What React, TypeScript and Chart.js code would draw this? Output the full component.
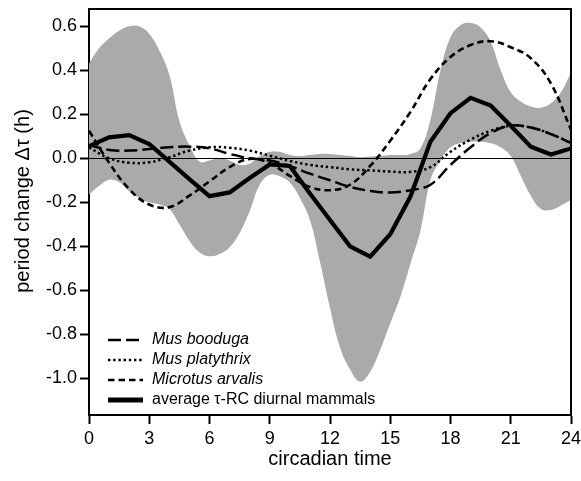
import React, { useEffect, useRef } from "react";
import { Chart, registerables } from "chart.js";

Chart.register(...registerables);

// ---------- data ----------
const hours = [0, 1, 2, 3, 4, 5, 6, 7, 8, 9, 10, 11, 12, 13, 14, 15, 16, 17, 18, 19, 20, 21, 22, 23, 24];

const averageTauRC = [0.055, 0.095, 0.105, 0.065, -0.015, -0.095, -0.172, -0.155, -0.09, -0.028, -0.035, -0.16, -0.28, -0.4, -0.447, -0.345, -0.175, 0.075, 0.205, 0.275, 0.24, 0.148, 0.053, 0.017, 0.045];

const musBooduga = [0.06, 0.038, 0.035, 0.042, 0.05, 0.053, 0.045, 0.02, 0.0, -0.01, -0.035, -0.07, -0.1, -0.13, -0.148, -0.155, -0.145, -0.12, -0.03, 0.05, 0.115, 0.148, 0.14, 0.11, 0.07];

const musPlatythrix = [0.05, 0.0, -0.02, -0.018, 0.005, 0.035, 0.05, 0.048, 0.035, 0.012, -0.012, -0.03, -0.04, -0.05, -0.055, -0.06, -0.062, -0.04, 0.03, 0.085, 0.125, 0.148, 0.14, 0.11, 0.07];

const microtusArvalis = [0.125, -0.02, -0.14, -0.21, -0.222, -0.17, -0.105, -0.04, -0.003, -0.022, -0.08, -0.13, -0.145, -0.12, -0.035, 0.08, 0.21, 0.36, 0.46, 0.515, 0.532, 0.505, 0.455, 0.34, 0.13];

const bandTime = [0, 0.5, 1, 1.5, 2, 2.5, 3, 3.5, 4, 4.5, 5, 5.5, 6, 6.5, 7, 7.5, 8, 8.5, 9, 9.5, 10, 10.5, 11, 11.5, 12, 12.5, 13, 13.5, 14, 14.5, 15, 15.5, 16, 16.5, 17, 17.5, 18, 18.5, 19, 19.5, 20, 20.5, 21, 21.5, 22, 22.5, 23, 23.5, 24];

const bandUpper = [0.43, 0.5, 0.545, 0.58, 0.6, 0.6, 0.565, 0.49, 0.38, 0.17, 0.06, -0.015, -0.01, 0.0, -0.01, -0.03, -0.025, 0.01, 0.03, 0.03, 0.015, 0.01, 0.015, 0.02, 0.02, 0.015, 0.01, 0.005, 0.008, 0.01, 0.015, 0.015, 0.02, 0.045, 0.175, 0.4, 0.55, 0.605, 0.615, 0.595, 0.53, 0.4, 0.3, 0.258, 0.235, 0.23, 0.25, 0.3, 0.39];

const bandLower = [-0.165, -0.125, -0.097, -0.108, -0.15, -0.18, -0.2, -0.21, -0.23, -0.3, -0.375, -0.428, -0.445, -0.435, -0.405, -0.34, -0.24, -0.12, -0.075, -0.082, -0.11, -0.18, -0.28, -0.47, -0.68, -0.86, -0.96, -1.015, -0.97, -0.87, -0.75, -0.63, -0.48, -0.33, -0.1, -0.01, 0.05, 0.07, 0.075, 0.075, 0.068, 0.05, 0.01, -0.08, -0.17, -0.23, -0.235, -0.215, -0.19];

const xTicks = [0, 3, 6, 9, 12, 15, 18, 21, 24];
const yTicks = [0.6, 0.4, 0.2, 0.0, -0.2, -0.4, -0.6, -0.8, -1.0];

const legendLabels = ["Mus booduga", "Mus platythrix", "Microtus arvalis", "average \u03c4-RC diurnal mammals"];
const legendItalic = [true, true, true, false];

const xTitle = "circadian time";
const yTitle = "period change \u0394\u03c4 (h)";

// ---------- styles ----------
const FONT = "'Liberation Sans', Arial, Helvetica, sans-serif";
const BAND_COLOR = "#aaaaaa";
const lineStyles = [
  { dash: [13, 5], width: 2.5 },
  { dash: [2.4, 2.8], width: 2.5 },
  { dash: [6.5, 4], width: 2.6 },
  { dash: [], width: 4.2 },
];

const toPts = (xs: number[], ys: number[]) => xs.map((x, i) => ({ x, y: ys[i] }));

const framePlugin = {
  id: "frameAndLegend",
  afterDatasetsDraw(chart: any) {
    const { ctx, chartArea, scales } = chart;
    const { left, right, top, bottom } = chartArea;
    ctx.save();
    const y0 = Math.round(scales.y.getPixelForValue(0)) + 0.5;
    ctx.strokeStyle = "#000";
    ctx.lineWidth = 1;
    ctx.setLineDash([]);
    ctx.beginPath();
    ctx.moveTo(left, y0);
    ctx.lineTo(right, y0);
    ctx.stroke();
    ctx.lineWidth = 2;
    ctx.beginPath();
    ctx.moveTo(left, top);
    ctx.lineTo(right, top);
    ctx.lineTo(right, bottom);
    ctx.stroke();
    ctx.restore();
  },
  afterDraw(chart: any) {
    const { ctx } = chart;
    ctx.save();
    const x0 = 108;
    const x1 = 143;
    const tx = 152;
    const rowY = [340, 360, 380, 400];
    legendLabels.forEach((label, i) => {
      const st = lineStyles[i];
      ctx.strokeStyle = "#000";
      ctx.lineWidth = i === 3 ? 4.8 : st.width;
      ctx.setLineDash(st.dash);
      ctx.lineCap = "butt";
      ctx.beginPath();
      ctx.moveTo(x0, rowY[i]);
      ctx.lineTo(x1, rowY[i]);
      ctx.stroke();
      ctx.setLineDash([]);
      ctx.fillStyle = "#000";
      ctx.font = `${legendItalic[i] ? "italic " : ""}16px ${FONT}`;
      ctx.textAlign = "left";
      ctx.textBaseline = "middle";
      ctx.fillText(label, tx, rowY[i]);
    });
    ctx.translate(23, 201);
    ctx.rotate(-Math.PI / 2);
    ctx.font = `20px ${FONT}`;
    ctx.textAlign = "center";
    ctx.textBaseline = "middle";
    ctx.fillStyle = "#000";
    ctx.fillText(yTitle, 0, 0);
    ctx.restore();
  },
};

export default function App() {
  const ref = useRef<HTMLCanvasElement | null>(null);

  useEffect(() => {
    if (!ref.current) return;
    const speciesDs = (label: string, ys: number[], i: number) => ({
      label,
      data: toPts(hours, ys),
      borderColor: "#000",
      borderWidth: lineStyles[i].width,
      borderDash: lineStyles[i].dash,
      pointRadius: 0,
      fill: false,
      tension: 0.4,
    });
    const chart = new Chart(ref.current, {
      type: "line",
      data: {
        datasets: [
          {
            label: legendLabels[3],
            data: toPts(hours, averageTauRC),
            borderColor: "#000",
            borderWidth: lineStyles[3].width,
            borderJoinStyle: "miter",
            pointRadius: 0,
            tension: 0,
            fill: false,
          },
          speciesDs(legendLabels[0], musBooduga, 0),
          speciesDs(legendLabels[1], musPlatythrix, 1),
          speciesDs(legendLabels[2], microtusArvalis, 2),
          {
            label: "upper",
            data: toPts(bandTime, bandUpper),
            borderWidth: 0,
            borderColor: "rgba(0,0,0,0)",
            backgroundColor: BAND_COLOR,
            pointRadius: 0,
            fill: "+1",
            tension: 0.4,
          },
          {
            label: "lower",
            data: toPts(bandTime, bandLower),
            borderWidth: 0,
            borderColor: "rgba(0,0,0,0)",
            pointRadius: 0,
            fill: false,
            tension: 0.4,
          },
        ] as any,
      },
      options: {
        responsive: false,
        maintainAspectRatio: false,
        animation: false,
        events: [],
        layout: { padding: { left: 0, right: 10, top: 9, bottom: 0 } },
        plugins: {
          legend: { display: false },
          tooltip: { enabled: false },
        },
        scales: {
          x: {
            type: "linear",
            min: 0,
            max: 24,
            ticks: {
              color: "#000",
              font: { family: FONT, size: 18 },
              padding: 4,
              maxRotation: 0,
              autoSkip: false,
            },
            grid: {
              display: true,
              drawOnChartArea: false,
              drawTicks: true,
              tickLength: 9,
              tickWidth: 2,
              tickColor: "#000",
            },
            border: { display: true, color: "#000", width: 2 },
            title: {
              display: true,
              text: xTitle,
              color: "#000",
              font: { family: FONT, size: 20 },
              padding: { top: 0, bottom: 10 },
            },
            afterBuildTicks: (s: any) => {
              s.ticks = xTicks.map((v) => ({ value: v }));
            },
            afterFit: (s: any) => {
              s.height = 66;
              s.paddingLeft = 0;
              s.paddingRight = 0;
            },
          },
          y: {
            type: "linear",
            min: -1.1668,
            max: 0.6786,
            ticks: {
              color: "#000",
              font: { family: FONT, size: 18 },
              padding: 3,
              autoSkip: false,
              callback: (v: any) => Number(v).toFixed(1),
            },
            grid: {
              display: true,
              drawOnChartArea: false,
              drawTicks: true,
              tickLength: 9,
              tickWidth: 2,
              tickColor: "#000",
            },
            border: { display: true, color: "#000", width: 2 },
            afterBuildTicks: (s: any) => {
              s.ticks = yTicks.map((v) => ({ value: v }));
            },
            afterFit: (s: any) => {
              s.width = 89;
              s.paddingTop = 0;
              s.paddingBottom = 0;
            },
          },
        },
      },
      plugins: [framePlugin],
    });
    return () => chart.destroy();
  }, []);

  return (
    <div style={{ position: "absolute", left: 0, top: 0, width: 581, height: 481, background: "#fff" }}>
      <canvas ref={ref} width={581} height={481} style={{ display: "block", width: 581, height: 481 }} />
    </div>
  );
}
